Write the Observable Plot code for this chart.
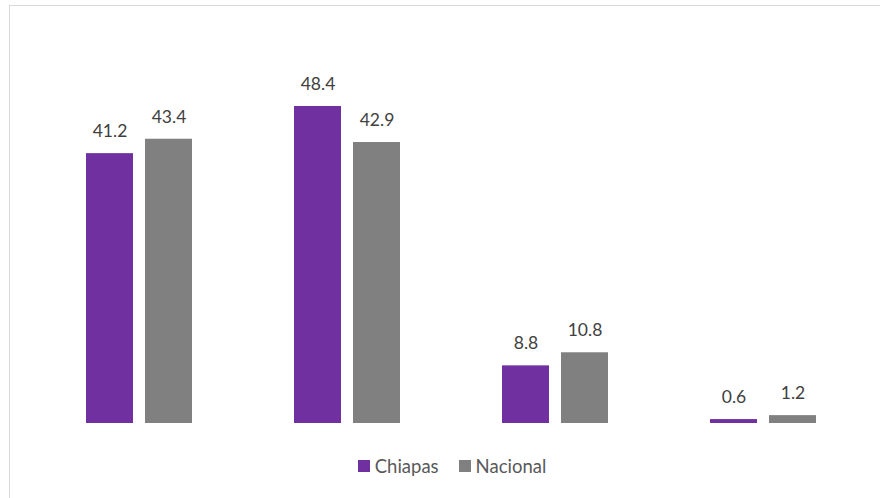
<!DOCTYPE html>
<html>
<head>
<meta charset="utf-8">
<script src="https://cdn.jsdelivr.net/npm/d3@7"></script>
<script src="https://cdn.jsdelivr.net/npm/@observablehq/plot@0.6"></script>
<style>
  html, body { margin: 0; padding: 0; background: #fff; }
  body { width: 880px; height: 498px; position: relative; overflow: hidden; font-family: Lato, "Open Sans", sans-serif; }
  #frame { position: absolute; left: 9px; top: 5px; width: 890px; height: 510px; border: 1px solid #d9d9d9; box-sizing: border-box; }
  #chart { position: absolute; left: 0; top: 0; }
  #legend { position: absolute; left: 0; top: 455px; width: 880px; display: flex; justify-content: center; font-size: 18.5px; color: #595959; padding-left: 24px; box-sizing: border-box;}
  .item { display: flex; align-items: center; margin: 0 10px; }
  .sw { width: 12px; height: 12px; margin-right: 5px; }
</style>
</head>
<body>
<div id="frame"></div>
<div id="chart"></div>
<div id="legend"></div>
<script>
const groups = ["G1", "G2", "G3", "G4"];
const seriesNames = ["Chiapas", "Nacional"];
const chiapas = [41.2, 48.4, 8.8, 0.6];
const nacional = [43.4, 42.9, 10.8, 1.2];
const colors = ["#7030A0", "#808080"];

const data = [];
groups.forEach((g, i) => {
  data.push({group: g, series: "Chiapas", value: chiapas[i]});
  data.push({group: g, series: "Nacional", value: nacional[i]});
});

const plot = Plot.plot({
  width: 880,
  height: 440,
  marginLeft: 35,
  marginRight: 13,
  marginTop: 30,
  marginBottom: 17,
  fx: {domain: groups, paddingInner: 0.49, paddingOuter: 0.245, axis: null},
  x: {domain: seriesNames, paddingInner: 0.2034, paddingOuter: 0, axis: null},
  y: {domain: [0, 60], axis: null},
  color: {domain: seriesNames, range: colors},
  style: {fontFamily: "Lato, 'Open Sans', sans-serif", background: "transparent"},
  marks: [
    Plot.barY(data, {fx: "group", x: "series", y: "value", fill: "series"}),
    Plot.text(data, {fx: "group", x: "series", y: "value", text: d => d.value.toFixed(1), dy: -22, fontSize: 17.5, fill: "#404040"})
  ]
});
document.getElementById("chart").appendChild(plot);

const legend = document.getElementById("legend");
seriesNames.forEach((s, i) => {
  const item = document.createElement("div");
  item.className = "item";
  const sw = document.createElement("div");
  sw.className = "sw";
  sw.style.background = colors[i];
  const t = document.createElement("span");
  t.textContent = s;
  item.appendChild(sw);
  item.appendChild(t);
  legend.appendChild(item);
});
</script>
</body>
</html>
